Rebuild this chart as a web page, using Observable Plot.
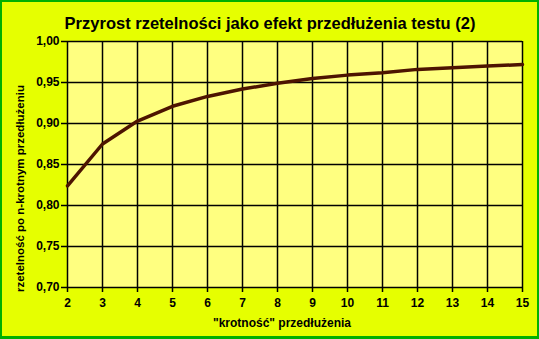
<!DOCTYPE html>
<html>
<head>
<meta charset="utf-8">
<script src="https://cdn.jsdelivr.net/npm/d3@7"></script>
<script src="https://cdn.jsdelivr.net/npm/@observablehq/plot@0.6"></script>
<style>
  html, body { margin: 0; padding: 0; background: #fff; }
  #wrap { position: relative; width: 539px; height: 339px; }
  #border { position: absolute; left: 0; top: 0; width: 539px; height: 339px; box-sizing: border-box; border: 2px solid #00b000; border-bottom-width: 3px; pointer-events: none; }
</style>
</head>
<body>
<div id="wrap"><div id="chart"></div><div id="border"></div></div>
<script>
const title = "Przyrost rzetelności jako efekt przedłużenia testu (2)";
const xLabel = "\"krotność\" przedłużenia";
const yLabel = "rzetelność po n-krotnym przedłużeniu";
const krotnosc = [2, 3, 4, 5, 6, 7, 8, 9, 10, 11, 12, 13, 14, 15];
const rzetelnosc = [0.824, 0.875, 0.903, 0.921, 0.933, 0.942, 0.949, 0.955, 0.959, 0.962, 0.966, 0.968, 0.970, 0.972];
const yTicks = [0.70, 0.75, 0.80, 0.85, 0.90, 0.95, 1.00];

const data = krotnosc.map((k, i) => ({x: k, y: rzetelnosc[i]}));
const fmt = v => v.toFixed(2).replace(".", ",");
const font = "'Liberation Sans', Arial, sans-serif";

const chart = Plot.plot({
  width: 539,
  height: 339,
  marginLeft: 67,
  marginRight: 17,
  marginTop: 41,
  marginBottom: 52,
  style: {background: "#e6ff00", fontFamily: font, fontSize: "12px", fontWeight: "bold", color: "#000"},
  x: {domain: [2, 15], ticks: krotnosc, label: null},
  y: {domain: [0.70, 1.00], ticks: yTicks, label: null},
  marks: [
    Plot.frame({fill: "#ffff80", stroke: null}),
    Plot.gridX(krotnosc, {stroke: "#000", strokeOpacity: 1, strokeWidth: 1.5}),
    Plot.gridY(yTicks, {stroke: "#000", strokeOpacity: 1, strokeWidth: 1.5}),
    Plot.axisX(krotnosc, {tickSize: 5, tickPadding: 6, tickFormat: d => String(d), fontWeight: "bold", fontSize: 12, fill: "#000", strokeWidth: 1.5}),
    Plot.axisY(yTicks, {tickSize: 6, tickPadding: 2, tickFormat: fmt, fontWeight: "bold", fontSize: 12, fill: "#000", strokeWidth: 1.5}),
    Plot.line(data, {x: "x", y: "y", stroke: "#4d1400", strokeWidth: 3.5}),
    Plot.text([title], {frameAnchor: "top", dy: -24, dx: -25, text: d => d, fontSize: 16.5, fontWeight: "bold", fill: "#000"}),
    Plot.text([xLabel], {frameAnchor: "bottom", dy: 39, dx: -13, text: d => d, fontSize: 12, fontWeight: "bold", fill: "#000"}),
    Plot.text([yLabel], {frameAnchor: "left", dx: -47, dy: 24, rotate: -90, textAnchor: "middle", text: d => d, fontSize: 11.5, fontWeight: "bold", fill: "#000"})
  ]
});
document.getElementById("chart").appendChild(chart);
</script>
</body>
</html>
